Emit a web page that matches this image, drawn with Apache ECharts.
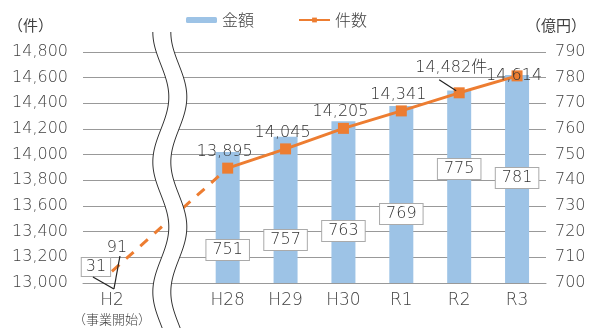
<!DOCTYPE html>
<html>
<head>
<meta charset="utf-8">
<script src="https://cdn.jsdelivr.net/npm/echarts@6/dist/echarts.min.js"></script>
<style>
html,body{margin:0;padding:0;background:#fff;}
#main{width:589px;height:329px;}
</style>
</head>
<body>
<div id="main"></div>
<script>
// ---- data ----
const categories = ['H2', '', 'H28', 'H29', 'H30', 'R1', 'R2', 'R3'];
const amountValues = [31, null, 751, 757, 763, 769, 775, 781];          // 金額（億円）
const countValues = [13091, null, 13895, 14045, 14205, 14341, 14482, 14614]; // 件数（件）
const countAxis = { min: 13000, max: 14800, interval: 200 };
const amountAxis = { min: 700, max: 790, interval: 10 };

(function () {
// ---- styling ----
const FONT = '"DejaVu Sans", "Noto Sans CJK JP", sans-serif';
const CJK = '"Noto Sans CJK JP", sans-serif';
const W = 200;
const TXT = '#404040';
const BAR = '#9DC3E6';
const LINE = '#ED7D31';
const barLabelLift = [0, 0, 23, 33, 42, 59, 104, 95];

const chart = echarts.init(document.getElementById('main'), null, { renderer: 'canvas' });

const fmt = v => Number(v).toLocaleString('en-US');

const barData = amountValues.map((v, i) =>
  (v == null || v < amountAxis.min) ? '-' : { value: v, label: { distance: barLabelLift[i] } });

const lineData = countValues.map((v, i) => {
  if (v == null || i === 0) return '-';
  const item = { value: v };
  if (i === categories.length - 2) {
    item.label = { formatter: p => fmt(p.value) + '件', offset: [-8, -8] };
  } else if (i === categories.length - 1) {
    item.label = { position: 'inside', offset: [-3, 0] };
  }
  return item;
});

const dashData = countValues.map((v, i) => (v == null || i > 2) ? '-' : v);

const option = {
  animation: false,
  textStyle: { fontFamily: FONT, fontWeight: W },
  grid: { left: 83, right: 43, top: 52, bottom: 41, containLabel: false },
  legend: {
    data: [{ name: '金額' }, { name: '件数' }],
    top: 7, left: 181,
    itemWidth: 31, itemHeight: 6, itemGap: 44,
    textStyle: { fontSize: 16, color: TXT, fontFamily: CJK }
  },
  xAxis: {
    type: 'category',
    data: categories,
    axisLine: { show: true, lineStyle: { color: '#999', width: 1 } },
    axisTick: { show: false },
    axisLabel: {
      color: TXT, fontSize: 17, fontWeight: W, margin: 8, interval: 0, lineHeight: 19,
      formatter: v => v === 'H2' ? 'H2\n{s|（事業開始）}' : v,
      rich: { s: { fontSize: 13, color: TXT, lineHeight: 19, fontFamily: CJK } }
    }
  },
  yAxis: [
    {
      type: 'value', min: countAxis.min, max: countAxis.max, interval: countAxis.interval,
      axisLine: { show: false }, axisTick: { show: false },
      axisLabel: { color: TXT, fontSize: 16, fontWeight: W, margin: 15, formatter: v => fmt(v) },
      splitLine: { lineStyle: { color: '#999', width: 1 } }
    },
    {
      type: 'value', min: amountAxis.min, max: amountAxis.max, interval: amountAxis.interval,
      axisLine: { show: false }, axisTick: { show: false },
      axisLabel: { color: TXT, fontSize: 16, fontWeight: W, margin: 9 },
      splitLine: { show: false }
    }
  ],
  series: [
    {
      name: '金額', type: 'bar', yAxisIndex: 1, data: barData,
      barWidth: 24, itemStyle: { color: BAR },
      label: {
        show: true, position: 'insideBottom', color: '#333', fontSize: 16, fontWeight: W,
        backgroundColor: '#fff', borderColor: '#aaa', borderWidth: 1, padding: [2, 6]
      },
      z: 2
    },
    {
      name: '件数（H2〜H28）', type: 'line', yAxisIndex: 0, data: dashData,
      connectNulls: true, symbol: 'none',
      lineStyle: { color: LINE, width: 3, type: [10, 9] },
      z: 3
    },
    {
      name: '件数', type: 'line', yAxisIndex: 0, data: lineData,
      symbol: 'rect', symbolSize: 11,
      itemStyle: { color: LINE },
      lineStyle: { color: LINE, width: 3 },
      label: { show: true, position: 'top', distance: 3, offset: [-3, 0], color: '#333', fontSize: 16, fontWeight: W,
               formatter: p => fmt(p.value) },
      z: 4
    }
  ]
};
chart.setOption(option);

// ---- decorations: unit labels, H2 notes, axis break ----
const px = (cat, val, axis) => chart.convertToPixel({ xAxisIndex: 0, yAxisIndex: axis }, [cat, val]);
const base = px(0, countAxis.min, 0);
const h2x = base[0], axisY = base[1];
const gapX = px(1, countAxis.min, 0)[0];
const r2 = px(categories.length - 2, countValues[categories.length - 2], 0);

const conv = [h2x + 2, axisY + 6];
const elements = [
  { type: 'text', left: 8, top: 18, style: { text: '（件）', fontSize: 15, fill: TXT, fontFamily: CJK } },
  { type: 'text', left: 526, top: 18, style: { text: '（億円）', fontSize: 15, fill: TXT, fontFamily: CJK } },
  { type: 'text', z: 50, x: h2x - 16, y: axisY - 16,
    style: { text: String(amountValues[0]), fontSize: 16, fontWeight: W, fill: '#333', fontFamily: FONT,
             align: 'center', verticalAlign: 'middle', backgroundColor: '#fff',
             borderColor: '#aaa', borderWidth: 1, padding: [1, 4] } },
  { type: 'text', z: 50, x: h2x + 5, y: axisY - 35,
    style: { text: String(countValues[0] % 1000), fontSize: 16, fontWeight: W, fill: '#333', fontFamily: FONT,
             align: 'center', verticalAlign: 'middle' } },
  { type: 'line', z: 50, shape: { x1: h2x - 19, y1: axisY - 6, x2: conv[0], y2: conv[1] },
    style: { stroke: '#222', lineWidth: 1.2 } },
  { type: 'line', z: 50, shape: { x1: h2x + 8, y1: axisY - 27, x2: conv[0], y2: conv[1] },
    style: { stroke: '#222', lineWidth: 1.2 } },
  { type: 'line', z: 50, shape: { x1: r2[0] - 20, y1: r2[1] - 13, x2: r2[0] - 3, y2: r2[1] - 2 },
    style: { stroke: '#222', lineWidth: 1.2 } }
];

// axis break (wavy double line)
const breakTop = 32, breakBottom = 329, amp = 8, period = 130, gap = 18;
const leftCurve = [], rightCurve = [];
for (let y = breakTop; y <= breakBottom; y += 2) {
  const xl = gapX - gap / 2 - amp * Math.cos(2 * Math.PI * (y - breakTop) / period);
  leftCurve.push([xl, y]);
  rightCurve.push([xl + gap, y]);
}
elements.push({ type: 'polygon', z: 40, shape: { points: leftCurve.concat(rightCurve.slice().reverse()) },
                style: { fill: '#fff', stroke: null } });
elements.push({ type: 'polyline', z: 41, shape: { points: leftCurve }, style: { stroke: '#333', lineWidth: 1, fill: null } });
elements.push({ type: 'polyline', z: 41, shape: { points: rightCurve }, style: { stroke: '#333', lineWidth: 1, fill: null } });

chart.setOption({ graphic: { elements } });
})();
</script>
</body>
</html>
